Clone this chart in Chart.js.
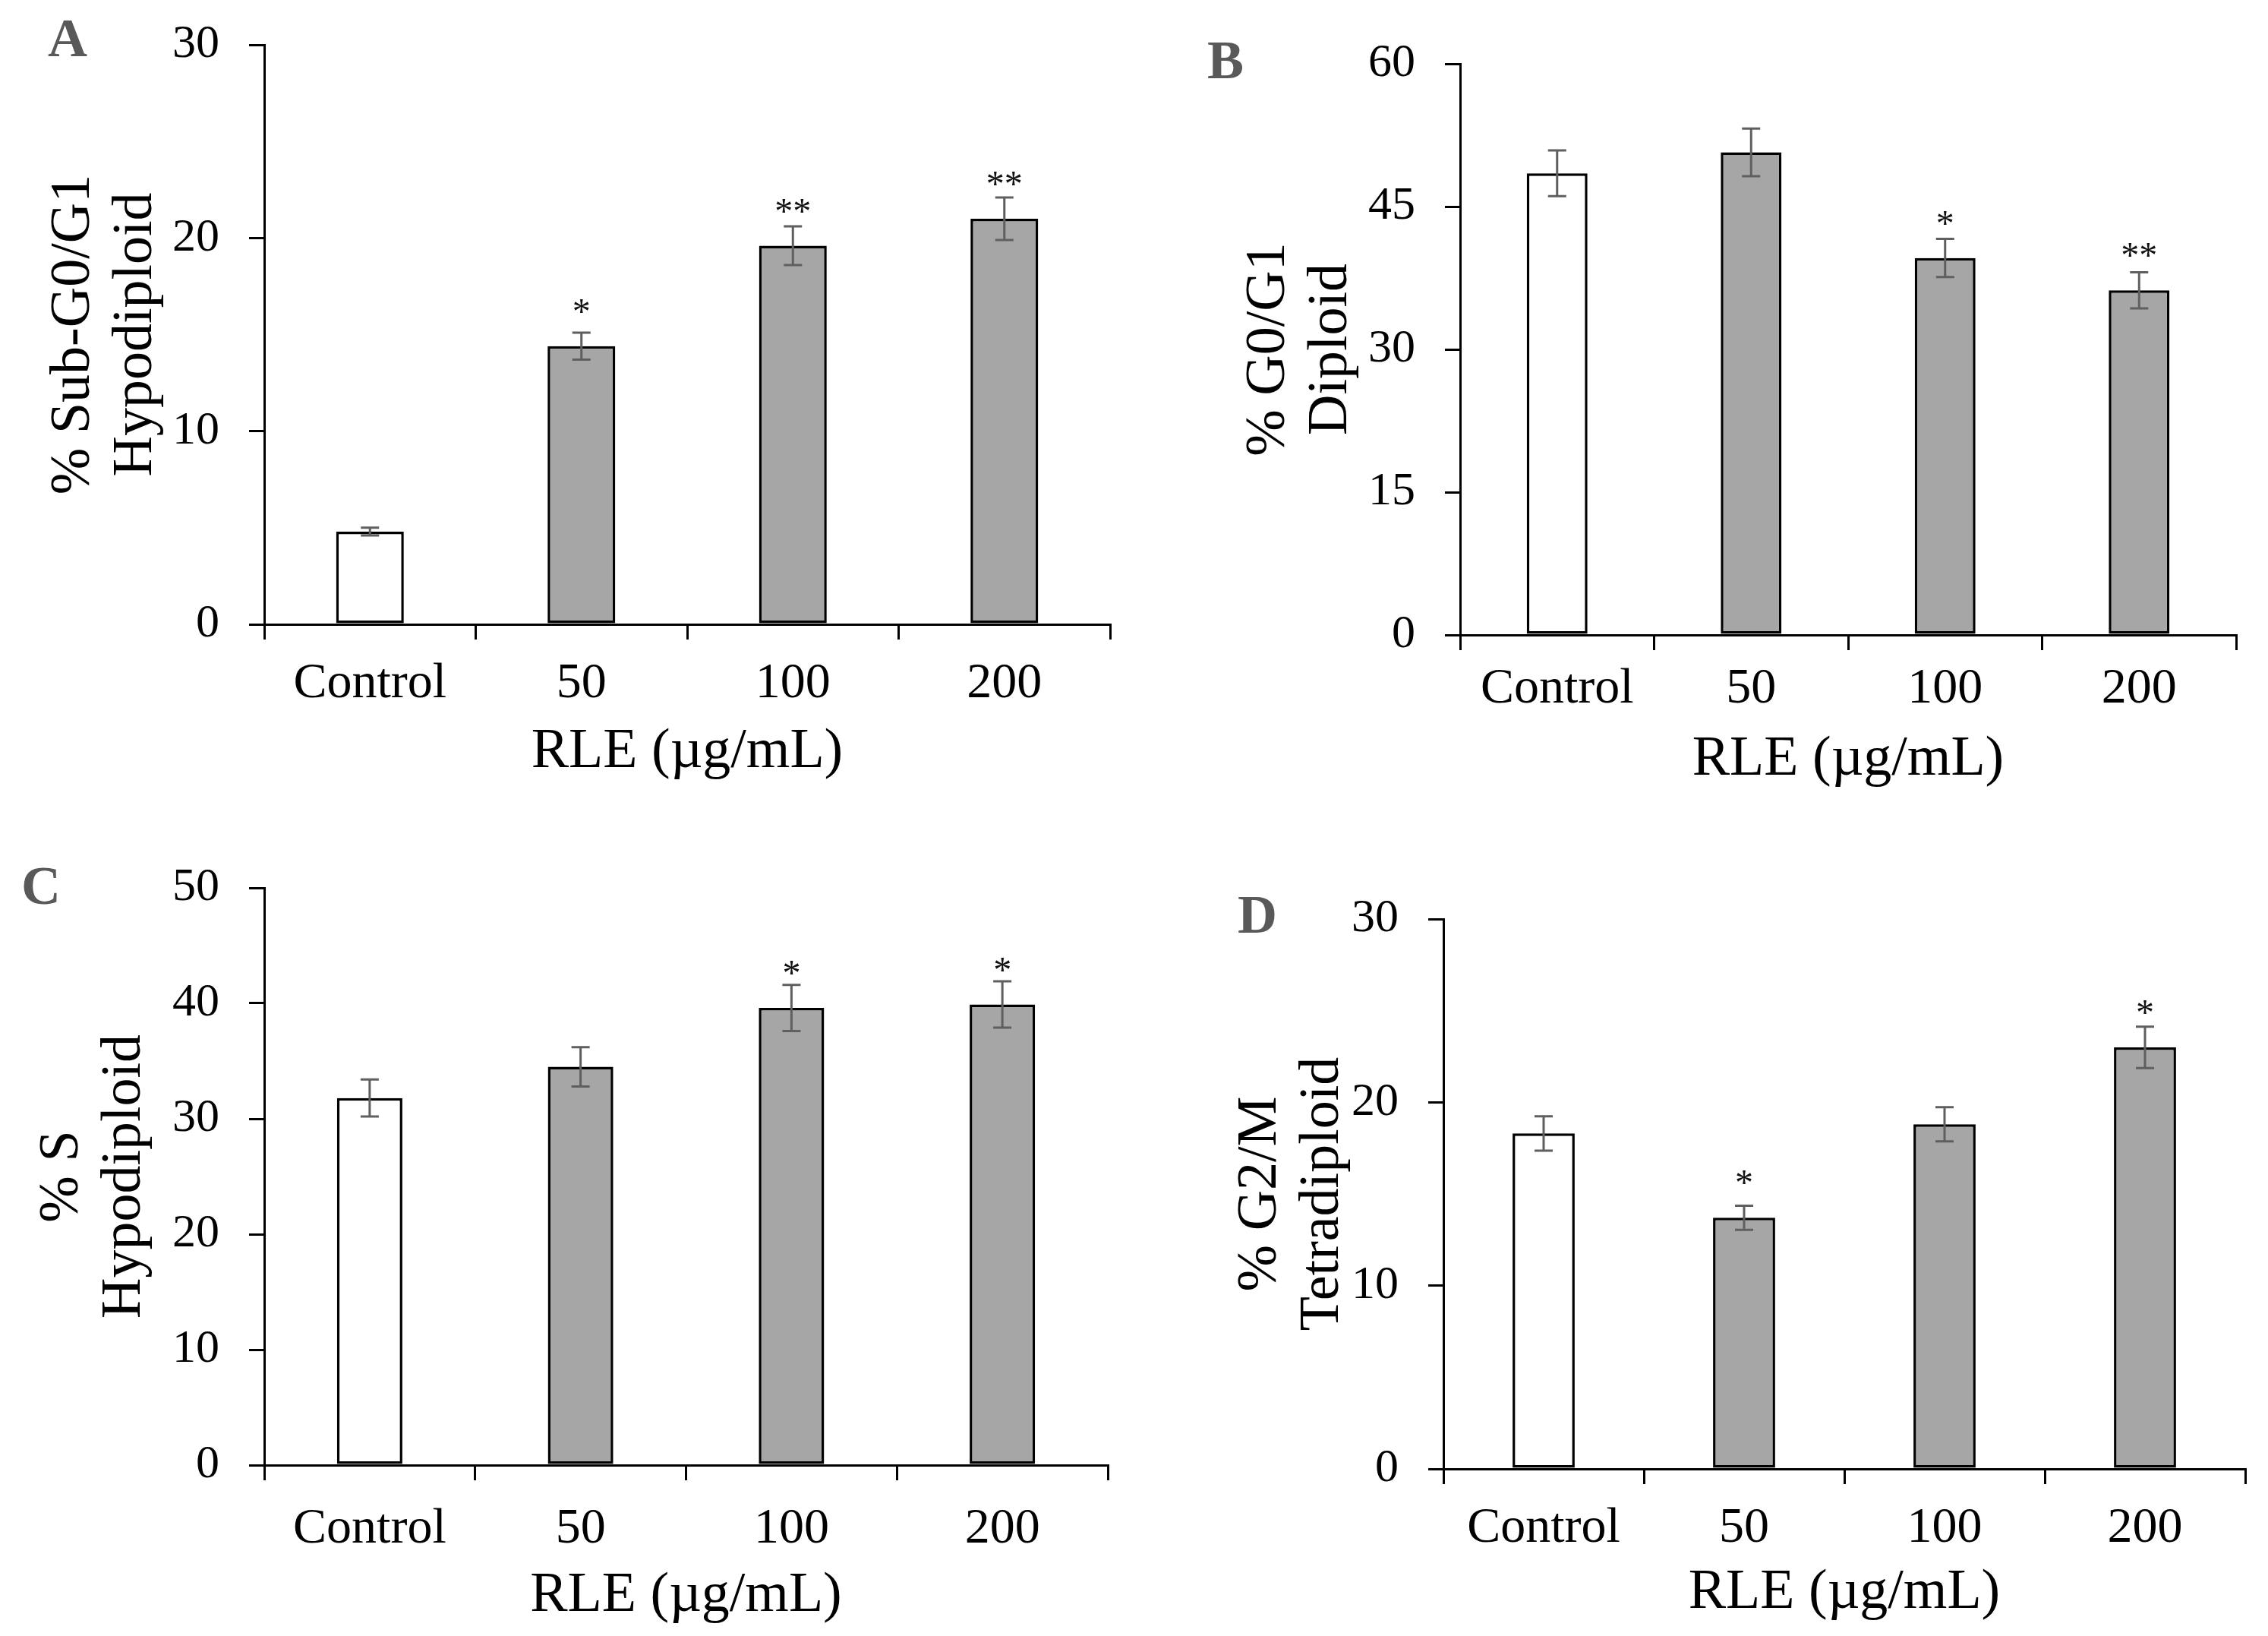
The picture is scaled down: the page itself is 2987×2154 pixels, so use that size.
<!DOCTYPE html>
<html>
<head>
<meta charset="utf-8">
<script src="https://cdn.jsdelivr.net/npm/chart.js@4.4.1/dist/chart.umd.min.js"></script>
<style>
  html, body { margin: 0; padding: 0; background: #fff; }
  body { width: 2987px; height: 2154px; position: relative; overflow: hidden; }
  canvas, .tag { position: absolute; }
  .tag { font: bold 72px "Liberation Serif", "Times New Roman", serif; color: #595959; line-height: 1; }
</style>
</head>
<body>
<div class="tag" style="left:63px;top:14px">A</div>
<div class="tag" style="left:1590px;top:43px">B</div>
<div class="tag" style="left:28px;top:1130px">C</div>
<div class="tag" style="left:1630px;top:1168px">D</div>
<canvas id="chartA" width="1490" height="1075" style="left:0;top:0"></canvas>
<canvas id="chartB" width="1497" height="1075" style="left:1490px;top:0"></canvas>
<canvas id="chartC" width="1490" height="1079" style="left:0;top:1075px"></canvas>
<canvas id="chartD" width="1497" height="1079" style="left:1490px;top:1075px"></canvas>
<script>
const doses = ["Control", "50", "100", "200"];

// A: sub-G0/G1
const subG1Mean = [4.8, 14.4, 19.6, 21.0];
const subG1Err = [0.2, 0.7, 1.0, 1.1];
const subG1Sig = ["", "*", "**", "**"];
// B: G0/G1
const g0g1Mean = [48.5, 50.7, 39.6, 36.2];
const g0g1Err = [2.4, 2.5, 2.0, 1.9];
const g0g1Sig = ["", "", "*", "**"];
// C: S
const sMean = [31.8, 34.5, 39.6, 39.9];
const sErr = [1.6, 1.7, 2.0, 2.0];
const sSig = ["", "", "*", "*"];
// D: G2/M
const g2mMean = [18.3, 13.7, 18.8, 23.0];
const g2mErr = [0.94, 0.66, 0.93, 1.13];
const g2mSig = ["", "*", "", "*"];

const barColors = ["#ffffff", "#a6a6a6", "#a6a6a6", "#a6a6a6"];
const serif = '"Liberation Serif", "Times New Roman", serif';

const panels = [
    { id: "chartA", mean: subG1Mean, err: subG1Err, sig: subG1Sig, max: 30, step: 10, barPct: 0.32,
      yTitle: ["% Sub-G0/G1", "Hypodiploid"],
      box: { left: 348, top: 59, right: 1462, bottom: 822 }, yTitlePad: 57, xTickPad: 19, xTitlePad: 40 },
    { id: "chartB", mean: g0g1Mean, err: g0g1Err, sig: g0g1Sig, max: 60, step: 15, barPct: 0.313,
      yTitle: ["% G0/G1", "Diploid"],
      box: { left: 433, top: 84, right: 1455, bottom: 836 }, yTitlePad: 141, xTickPad: 12, xTitlePad: 30 },
    { id: "chartC", mean: sMean, err: sErr, sig: sSig, max: 50, step: 10, barPct: 0.31,
      yTitle: ["% S", "Hypodiploid"],
      box: { left: 348, top: 94, right: 1459, bottom: 854 }, yTitlePad: 42, xTickPad: 25, xTitlePad: 8 },
    { id: "chartD", mean: g2mMean, err: g2mErr, sig: g2mSig, max: 30, step: 10, barPct: 0.31,
      yTitle: ["% G2/M", "Tetradiploid"],
      box: { left: 411, top: 135, right: 1467, bottom: 859 }, yTitlePad: 130, xTickPad: 19, xTitlePad: 12 }
];

// error bars + significance stars, placed through the y scale
const errorBars = {
    id: "errorBars",
    afterDatasetsDraw(chart, args, opts) {
        const { ctx } = chart;
        const y = chart.scales.y;
        const bars = chart.getDatasetMeta(0).data;
        ctx.save();
        bars.forEach((bar, i) => {
            const v = opts.mean[i], e = opts.err[i];
            const top = y.getPixelForValue(v + e);
            const bottom = y.getPixelForValue(v - e);
            ctx.strokeStyle = "#5f5f5f";
            ctx.lineWidth = 3;
            ctx.beginPath();
            ctx.moveTo(bar.x, top); ctx.lineTo(bar.x, bottom);
            ctx.moveTo(bar.x - 12, top); ctx.lineTo(bar.x + 12, top);
            ctx.moveTo(bar.x - 12, bottom); ctx.lineTo(bar.x + 12, bottom);
            ctx.stroke();
            if (opts.sig[i]) {
                ctx.fillStyle = "#111";
                ctx.font = "48px " + serif;
                ctx.textAlign = "center";
                ctx.textBaseline = "alphabetic";
                ctx.fillText(opts.sig[i], bar.x, y.getPixelForValue(v) - 30);
            }
        });
        ctx.restore();
    }
};

panels.forEach((p) => {
    const canvas = document.getElementById(p.id);
    const W = canvas.width, H = canvas.height;
    new Chart(canvas, {
        type: "bar",
        data: {
            labels: doses,
            datasets: [{
                data: p.mean,
                backgroundColor: barColors,
                borderColor: "#000",
                borderWidth: 3.5,
                borderSkipped: false,
                categoryPercentage: 1,
                barPercentage: p.barPct
            }]
        },
        options: {
            responsive: false,
            devicePixelRatio: 1,
            animation: false,
            layout: { padding: { left: 0, top: p.box.top, right: W - p.box.right, bottom: 0 } },
            plugins: {
                legend: { display: false },
                tooltip: { enabled: false },
                errorBars: { mean: p.mean, err: p.err, sig: p.sig }
            },
            scales: {
                x: {
                    offset: true,
                    afterFit: (s) => { s.height = H - p.box.bottom; s.paddingLeft = 0; s.paddingRight = 0; },
                    grid: { offset: true, drawOnChartArea: false, tickLength: 20, color: "#000", lineWidth: 3 },
                    border: { color: "#000", width: 3 },
                    ticks: { color: "#000", padding: p.xTickPad, maxRotation: 0, autoSkip: false, font: { family: serif, size: 66 } },
                    title: { display: true, text: "RLE (\u00b5g/mL)", color: "#000",
                             font: { family: serif, size: 74, lineHeight: 1.2 }, padding: { top: 0, bottom: p.xTitlePad } }
                },
                y: {
                    min: 0, max: p.max,
                    afterFit: (s) => { s.width = p.box.left; s.paddingTop = 0; s.paddingBottom = 0; },
                    grid: { drawOnChartArea: false, tickLength: 20, color: "#000", lineWidth: 3 },
                    border: { color: "#000", width: 3 },
                    ticks: { stepSize: p.step, color: "#000", padding: 39, font: { family: serif, size: 62 } },
                    title: { display: true, text: p.yTitle, color: "#000",
                             font: { family: serif, size: 74, lineHeight: 1.1 }, padding: { top: p.yTitlePad, bottom: 0 } }
                }
            }
        },
        plugins: [errorBars]
    });
});
</script>
</body>
</html>
